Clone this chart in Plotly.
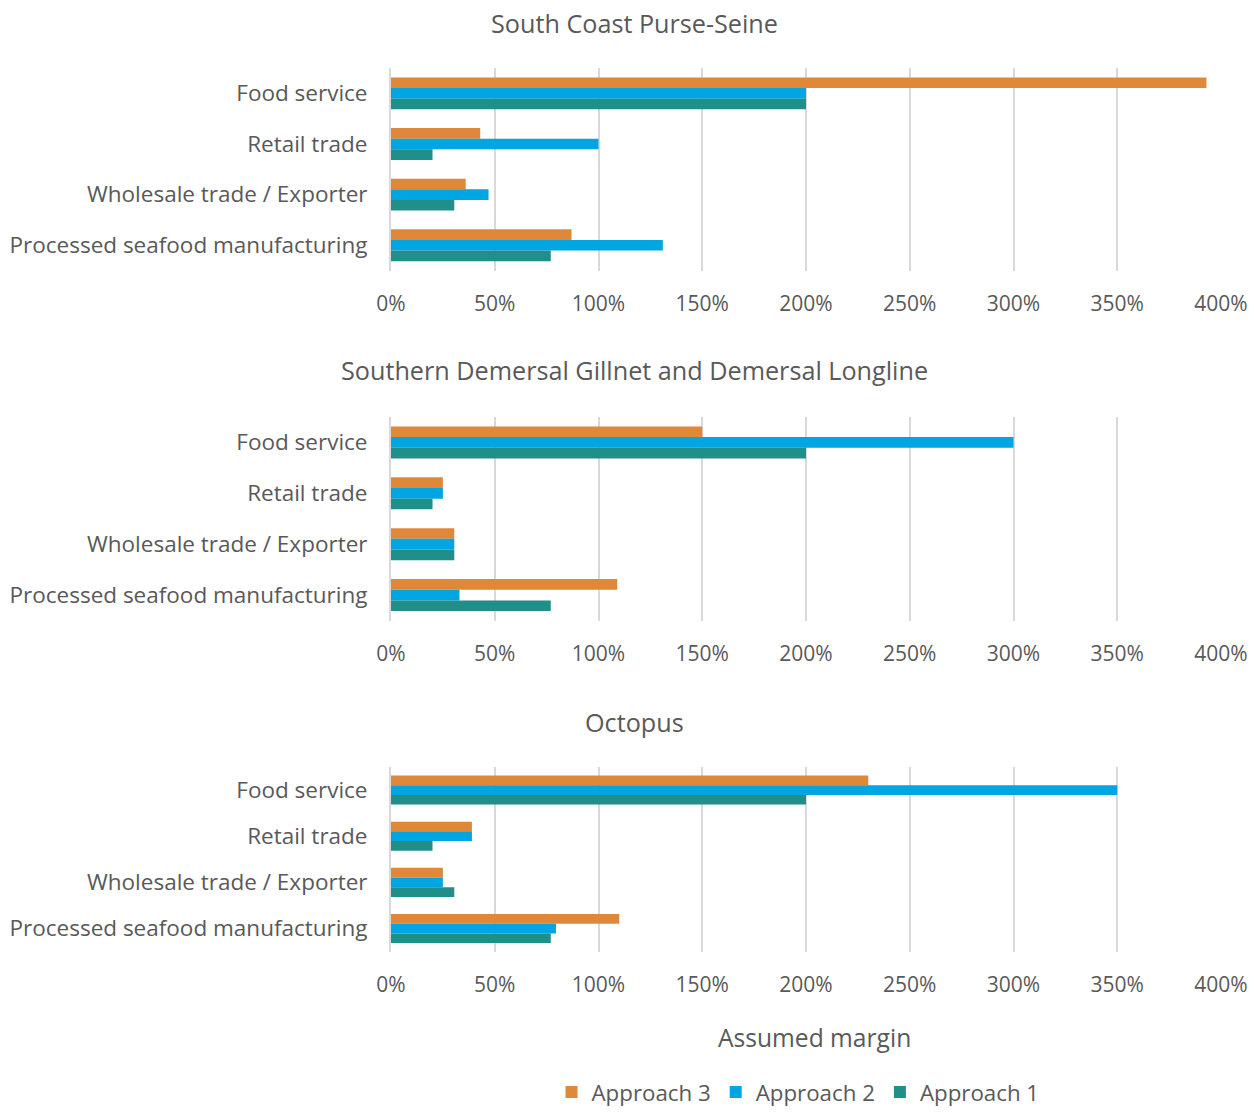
import plotly.graph_objects as go

# Supply-chain stages (top to bottom in each panel)
categories = ["Food service", "Retail trade", "Wholesale trade / Exporter",
              "Processed seafood manufacturing"]

# Fisheries shown as separate panels
fisheries = ["South Coast Purse-Seine",
             "Southern Demersal Gillnet and Demersal Longline",
             "Octopus"]

# Assumed margins (%) per fishery, listed in category order
purse_seine_a3 = [393, 43, 36, 87]
purse_seine_a2 = [200, 100, 47, 131]
purse_seine_a1 = [200, 20, 30.5, 77]

demersal_a3 = [150, 25, 30.5, 109]
demersal_a2 = [300, 25, 30.5, 33]
demersal_a1 = [200, 20, 30.5, 77]

octopus_a3 = [230, 39, 25, 110]
octopus_a2 = [350, 39, 25, 79.5]
octopus_a1 = [200, 20, 30.5, 77]

series_names = ["Approach 3", "Approach 2", "Approach 1"]
series_colors = ["#E0883A", "#00A5E2", "#208E89"]

x_ticks = [0, 50, 100, 150, 200, 250, 300, 350, 400]
x_tick_labels = ["0%", "50%", "100%", "150%", "200%", "250%", "300%", "350%", "400%"]

panel_data = [
    [purse_seine_a3, purse_seine_a2, purse_seine_a1],
    [demersal_a3, demersal_a2, demersal_a1],
    [octopus_a3, octopus_a2, octopus_a1],
]

W, H = 1258, 1113
L, R = 391, 37
TEXT = "#595959"
FONT = "Open Sans"

def py(px):
    return 1 - px / H

def px_x(px):
    return (px - L) / (W - L - R)

# vertical pixel extents of each plotting area
panel_px = [(68.5, 272.5), (420, 625), (772.5, 958.5)]
title_px = [23, 373, 727]

fig = go.Figure()

for p, values in enumerate(panel_data):
    suffix = "" if p == 0 else str(p + 1)
    for s, (name, color) in enumerate(zip(series_names, series_colors)):
        fig.add_trace(go.Bar(
            x=values[s], y=categories, orientation="h",
            name=name, marker=dict(color=color, line=dict(width=0)),
            xaxis="x" + suffix, yaxis="y" + suffix,
            showlegend=(p == 0), legendgroup=name,
        ))

layout = dict(
    width=W, height=H,
    margin=dict(l=L, r=R, t=0, b=0),
    paper_bgcolor="white", plot_bgcolor="white",
    barmode="group", bargap=0.37, bargroupgap=0,
    font=dict(family=FONT, color=TEXT, size=21),
    legend=dict(orientation="h", x=px_x(798), xanchor="center",
                y=py(1100), yanchor="middle",
                font=dict(size=22.3, color=TEXT), itemwidth=30,
                traceorder="normal"),
    annotations=[],
)

for p in range(3):
    suffix = "" if p == 0 else str(p + 1)
    top, bot = panel_px[p]
    layout["xaxis" + suffix] = dict(
        domain=[0, 1], range=[0, 400], anchor="y" + suffix,
        tickvals=x_ticks, ticktext=x_tick_labels,
        showgrid=True, gridcolor="#D9D9D9", gridwidth=2,
        zeroline=False, showline=False, ticks="",
        ticklabelstandoff=18,
        tickfont=dict(size=21, color=TEXT, family=FONT),
        fixedrange=True,
    )
    layout["yaxis" + suffix] = dict(
        domain=[py(bot), py(top)], anchor="x" + suffix,
        categoryorder="array", categoryarray=categories,
        autorange="reversed",
        showgrid=False, zeroline=False,
        showline=True, linecolor="#D9D9D9", linewidth=2,
        ticks="", ticklabelstandoff=17,
        tickfont=dict(size=22.5, color=TEXT, family=FONT),
        fixedrange=True,
    )
    layout["annotations"].append(dict(
        text=fisheries[p], xref="paper", yref="paper",
        x=px_x(634), y=py(title_px[p]), xanchor="center", yanchor="middle",
        showarrow=False, font=dict(size=25.2, color=TEXT, family=FONT),
    ))

layout["annotations"].append(dict(
    text="Assumed margin", xref="paper", yref="paper",
    x=px_x(814), y=py(1045), xanchor="center", yanchor="middle",
    showarrow=False, font=dict(size=24.6, color=TEXT, family=FONT),
))

fig.update_layout(**layout)
fig.write_html("out.html")
